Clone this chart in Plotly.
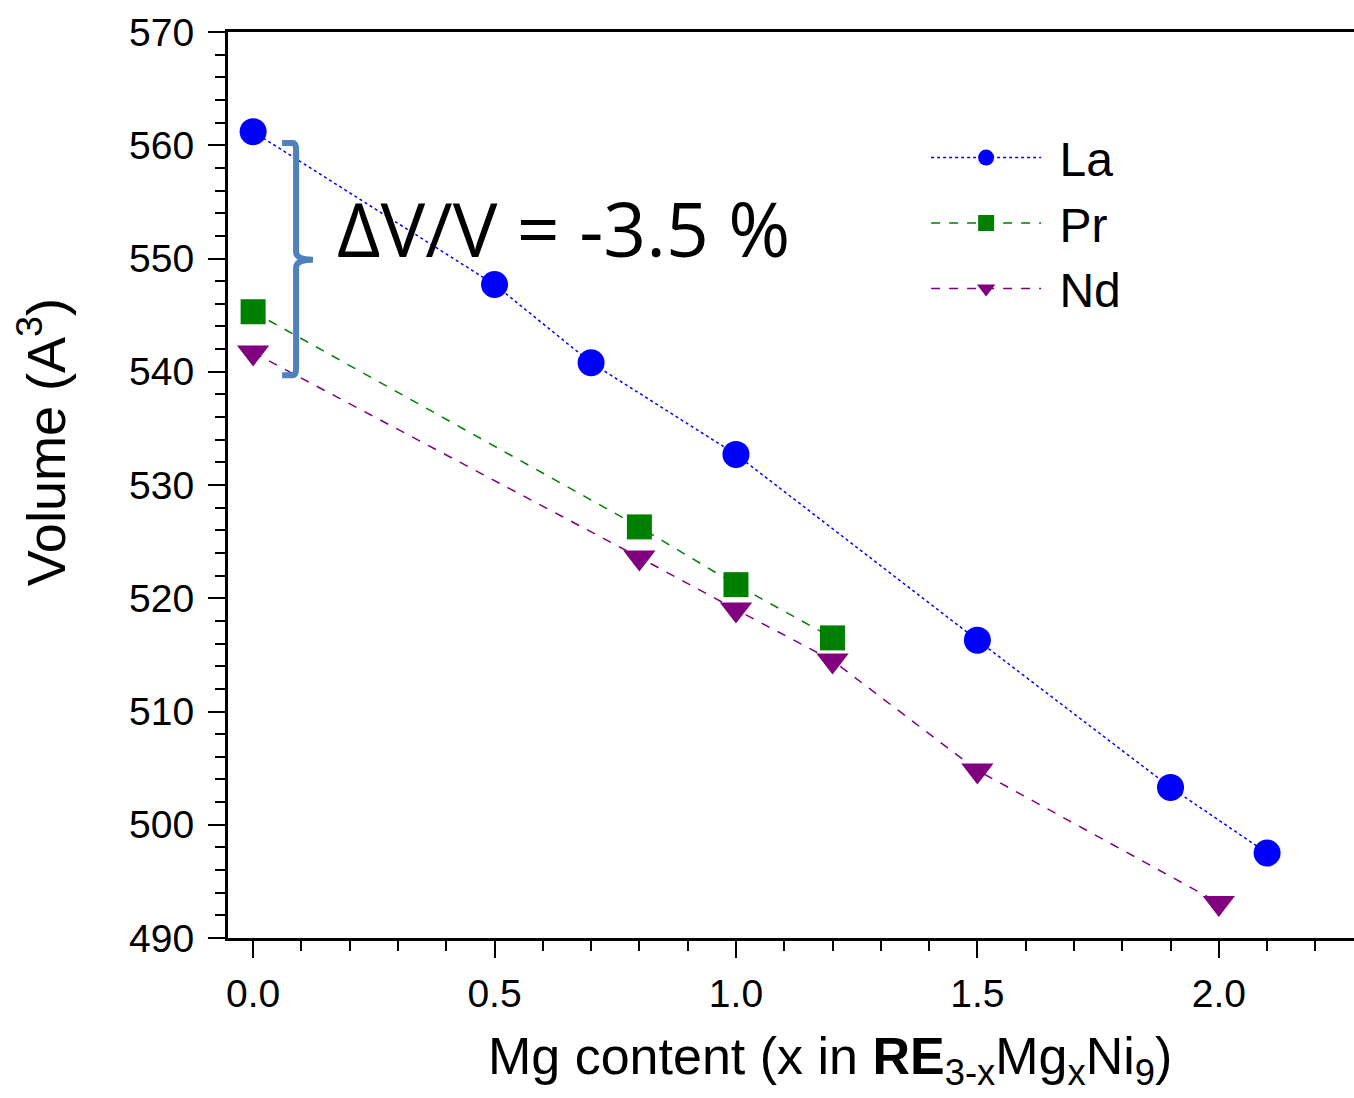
import plotly.graph_objects as go

# Unit-cell volume of RE(3-x)Mg(x)Ni9 vs Mg content
la_x = [0.0, 0.5, 0.7, 1.0, 1.5, 1.9, 2.1]
la_v = [561.2, 547.7, 540.8, 532.7, 516.3, 503.3, 497.5]

pr_x = [0.0, 0.8, 1.0, 1.2]
pr_v = [545.3, 526.3, 521.2, 516.5]

nd_x = [0.0, 0.8, 1.0, 1.2, 1.5, 2.0]
nd_v = [541.7, 523.6, 519.0, 514.5, 504.8, 493.1]

x_ticks = [0.0, 0.5, 1.0, 1.5, 2.0]
y_ticks = [490, 500, 510, 520, 530, 540, 550, 560, 570]

FONT = "Liberation Sans, Arial, sans-serif"
NBSP = "\u00a0"

fig = go.Figure()
fig.add_trace(go.Scatter(
    x=la_x, y=la_v, name=NBSP + "La", mode="lines+markers", legendgroup="la",
    line=dict(color="#0000ff", width=1.5, dash="dot"),
    marker=dict(symbol="circle", size=27, color="#0000ff"),
))
fig.add_trace(go.Scatter(
    x=pr_x, y=pr_v, name=NBSP + "Pr", mode="lines+markers", legendgroup="pr",
    line=dict(color="#008000", width=1.5, dash="dash"),
    marker=dict(symbol="square", size=25, color="#008000"),
))
fig.add_trace(go.Scatter(
    x=nd_x, y=nd_v, name=NBSP + "Nd", mode="lines+markers", legendgroup="nd",
    line=dict(color="#800080", width=1.5, dash="dash"),
    marker=dict(symbol="triangle-down", size=28, color="#800080"),
))

# Bracket marking the La-to-Nd volume difference at x = 0
fig.add_shape(
    type="path", xref="x", yref="y",
    path=("M 0.060,560.2 L 0.082,560.2 Q 0.089,560.2 0.089,559.6 L 0.089,550.6 "
          "Q 0.089,549.9 0.124,549.9 Q 0.089,549.9 0.089,549.2 "
          "L 0.089,540.3 Q 0.089,539.7 0.082,539.7 L 0.060,539.7"),
    line=dict(color="#4f81bd", width=6),
)
fig.add_annotation(
    x=0.17, y=552.7, xref="x", yref="y", xanchor="left", yanchor="middle",
    text="ΔV/V = -3.5 %", showarrow=False,
    font=dict(family="Open Sans, sans-serif", size=75, color="black"),
)

# Axis titles
fig.add_annotation(
    x=0.535, y=-0.135, xref="paper", yref="paper", xanchor="center", yanchor="middle",
    text="Mg content (x in <b>RE</b><sub>3-x</sub>Mg<sub>x</sub>Ni<sub>9</sub>)",
    showarrow=False, font=dict(family=FONT, size=52, color="black"),
)
fig.add_annotation(
    x=-0.165, y=0.5475, xref="paper", yref="paper", xanchor="center", yanchor="middle",
    text="Volume (A<sup>3</sup>)", textangle=-90,
    showarrow=False, font=dict(family=FONT, size=54, color="black"),
)

fig.update_layout(
    width=1354, height=1098,
    margin=dict(l=228, r=0, t=32, b=160),
    plot_bgcolor="white", paper_bgcolor="white",
    font=dict(family=FONT, color="black"),
    showlegend=True,
    legend=dict(
        x=0.62, y=0.903, xanchor="left", yanchor="top",
        font=dict(size=48, family=FONT),
        bgcolor="rgba(0,0,0,0)", itemwidth=110, tracegroupgap=0,
        itemsizing="trace",
    ),
    xaxis=dict(
        range=[-0.052, 2.28], tickvals=x_ticks, ticktext=[f"{v:.1f}" for v in x_ticks],
        ticks="outside", ticklen=17, tickwidth=2, tickcolor="black",
        minor=dict(dtick=0.1, ticks="outside", ticklen=10, tickwidth=2, tickcolor="black"),
        showline=True, linecolor="black", linewidth=3, mirror=True,
        showgrid=False, zeroline=False,
        tickfont=dict(size=39), ticklabelstandoff=2,
    ),
    yaxis=dict(
        range=[490, 570], tickvals=y_ticks,
        ticks="outside", ticklen=17, tickwidth=2, tickcolor="black",
        minor=dict(dtick=2, ticks="outside", ticklen=10, tickwidth=2, tickcolor="black"),
        showline=True, linecolor="black", linewidth=3, mirror=False,
        showgrid=False, zeroline=False,
        tickfont=dict(size=39), ticklabelstandoff=6,
    ),
)

fig.write_html("out.html")
